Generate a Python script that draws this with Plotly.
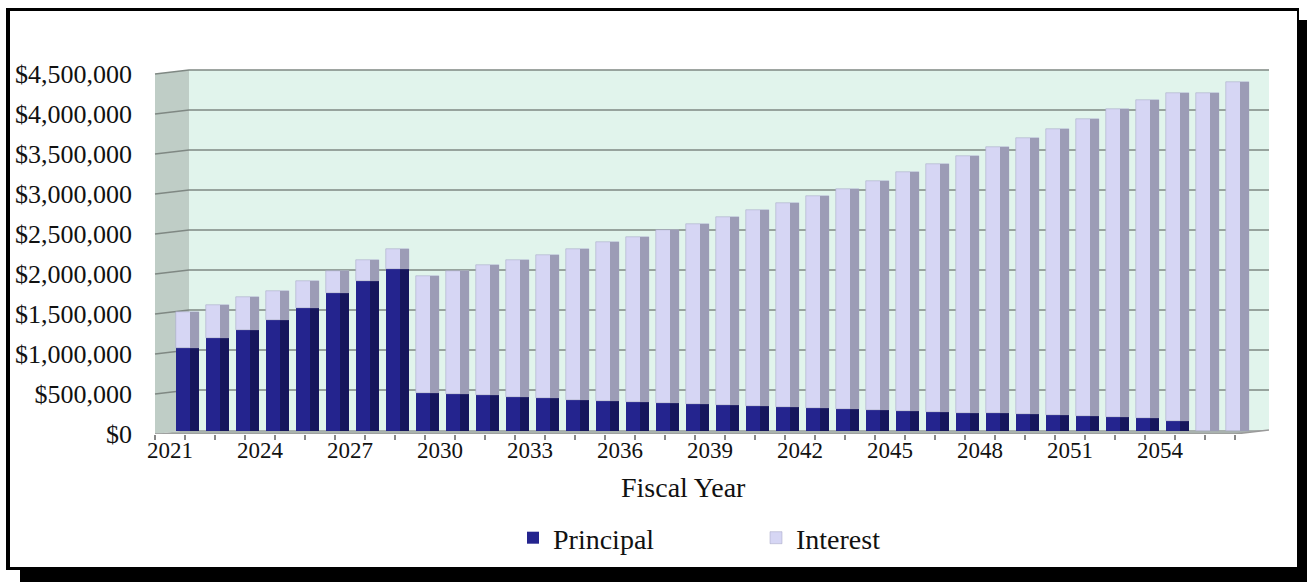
import plotly.graph_objects as go

# ---------------- data ----------------
years = list(range(2021, 2057))
principal = [1040000, 1160000, 1260000, 1390000, 1540000, 1720000, 1880000, 2030000,
             480000, 460000, 445000, 425000, 410000, 390000, 375000, 360000, 345000,
             333000, 320000, 310000, 296000, 283000, 270000, 260000, 254000, 240000,
             230000, 220000, 210000, 200000, 185000, 175000, 167000, 125000, 0, 0]
interest = [450000, 420000, 415000, 360000, 335000, 280000, 260000, 240000,
            1460000, 1540000, 1630000, 1715000, 1790000, 1890000, 1985000, 2070000,
            2165000, 2257000, 2350000, 2450000, 2554000, 2657000, 2760000, 2870000,
            2986000, 3100000, 3210000, 3330000, 3450000, 3580000, 3715000, 3845000,
            3973000, 4105000, 4220000, 4360000]
y_ticks = [0, 500000, 1000000, 1500000, 2000000, 2500000, 3000000, 3500000, 4000000, 4500000]
y_tick_text = ["$0", "$500,000", "$1,000,000", "$1,500,000", "$2,000,000", "$2,500,000",
               "$3,000,000", "$3,500,000", "$4,000,000", "$4,500,000"]
x_label_years = [2021, 2024, 2027, 2030, 2033, 2036, 2039, 2042, 2045, 2048, 2051, 2054]
x_title = "Fiscal Year"

# ---------------- geometry ----------------
W, H = 1307, 582
L, R, T, B = 145, 1280, 60, 434          # plot area in pixels
PX_PER_YEAR = 30.0
X0_PX = 170                               # front-plane centre of first category
PER_PX = 12500.0                          # dollars per pixel
x_rng = [years[0] + (L - X0_PX) / PX_PER_YEAR, years[0] + (R - X0_PX) / PX_PER_YEAR]
y_rng = [0, (B - T) * PER_PX]
mid_dx = 17 / PX_PER_YEAR                 # bars sit half-way into the depth
mid_dy = 3 * PER_PX
dx = 34 / PX_PER_YEAR                     # back wall offset
dy = 4 * PER_PX

def px(xp):
    return (xp - L) / (R - L)

def py(yp):
    return (B - yp) / (B - T)

SERIF = "Liberation Serif, Times New Roman, serif"
BAR_W = 23 / PX_PER_YEAR
SHADE_W = 9 / PX_PER_YEAR

fig = go.Figure()
base_int = [p for p in principal]

fig.add_trace(go.Bar(x=years, y=principal, base=[0] * len(years), name="Principal",
                     marker=dict(color="#24248e", line=dict(width=0)), width=BAR_W,
                     xaxis="x2", yaxis="y2", showlegend=True, legendrank=1))
fig.add_trace(go.Bar(x=years, y=principal, base=[0] * len(years), name="Principal",
                     marker=dict(color="#16165c", line=dict(width=0)), width=SHADE_W,
                     offset=BAR_W / 2 - SHADE_W, xaxis="x2", yaxis="y2", showlegend=False,
                     hoverinfo="skip"))
fig.add_trace(go.Bar(x=years, y=interest, base=base_int, name="Interest",
                     marker=dict(color="#d6d6f4", line=dict(width=0.5, color="#a0a0c0")),
                     width=BAR_W, xaxis="x2", yaxis="y2", showlegend=True, legendrank=2))
fig.add_trace(go.Bar(x=years, y=interest, base=base_int, name="Interest",
                     marker=dict(color="#9c9cb6", line=dict(width=0)), width=SHADE_W,
                     offset=BAR_W / 2 - SHADE_W, xaxis="x2", yaxis="y2", showlegend=False,
                     hoverinfo="skip"))

shapes = []
# frame with drop shadow
shapes.append(dict(type="rect", xref="paper", yref="paper", x0=px(6), x1=px(1299), y0=py(8), y1=py(570),
                   fillcolor="black", line=dict(width=0), layer="below"))
shapes.append(dict(type="rect", xref="paper", yref="paper", x0=px(1299), x1=px(1307), y0=py(20), y1=py(582),
                   fillcolor="black", line=dict(width=0), layer="below"))
shapes.append(dict(type="rect", xref="paper", yref="paper", x0=px(20), x1=px(1307), y0=py(570), y1=py(582),
                   fillcolor="black", line=dict(width=0), layer="below"))
shapes.append(dict(type="rect", xref="paper", yref="paper", x0=px(10), x1=px(1297), y0=py(11), y1=py(567),
                   fillcolor="white", line=dict(width=0), layer="below"))

xl = years[0] - 0.5
xr = years[-1] + 0.5
ytop = y_ticks[-1]
# back wall
shapes.append(dict(type="rect", xref="x", yref="y", x0=xl + dx, x1=xr + dx, y0=dy, y1=ytop + dy,
                   fillcolor="#e1f4ec", line=dict(width=0), layer="below"))
# left wall
shapes.append(dict(type="path", xref="x", yref="y",
                   path=f"M {xl},0 L {xl + dx},{dy} L {xl + dx},{ytop + dy} L {xl},{ytop} Z",
                   fillcolor="#bfcdc6", line=dict(width=0), layer="below"))
# floor
shapes.append(dict(type="path", xref="x", yref="y",
                   path=f"M {xl},0 L {xr},0 L {xr + dx},{dy} L {xl + dx},{dy} Z",
                   fillcolor="#a9b2ae", line=dict(width=0), layer="below"))
# gridlines on left and back walls
for v in y_ticks[1:]:
    shapes.append(dict(type="path", xref="x", yref="y",
                       path=f"M {xl},{v} L {xl + dx},{v + dy} L {xr + dx},{v + dy}",
                       line=dict(color="#7f8883", width=1.6), layer="below"))
# axis line (front) and right floor edge
shapes.append(dict(type="path", xref="x", yref="y",
                   path=f"M {xl},0 L {xr},0 L {xr + dx},{dy}",
                   line=dict(color="#9a9a9a", width=1.5), layer="below"))

fig.update_layout(
    width=W, height=H,
    margin=dict(l=L, r=W - R, t=T, b=H - B, pad=0),
    paper_bgcolor="white", plot_bgcolor="rgba(0,0,0,0)",
    barmode="overlay", bargap=0,
    shapes=shapes,
    font=dict(family=SERIF, color="#111111"),
    xaxis=dict(range=x_rng, showgrid=False, zeroline=False, showline=False,
               tickmode="array", tickvals=x_label_years, ticktext=[str(y) for y in x_label_years],
               ticks="", tickfont=dict(size=23, family=SERIF, color="#111111"),
               minor=dict(tickvals=[y - 0.5 for y in years] + [years[-1] + 0.5],
                          ticks="outside", ticklen=5, tickcolor="#888888", tickwidth=1.5,
                          showgrid=False)),
    yaxis=dict(range=y_rng, showgrid=False, zeroline=False, showline=False,
               tickmode="array", tickvals=y_ticks, ticktext=y_tick_text, ticks="",
               tickfont=dict(size=26, family=SERIF, color="#111111"), ticklabelstandoff=12),
    xaxis2=dict(range=[x_rng[0] - mid_dx, x_rng[1] - mid_dx], overlaying="x", visible=False),
    yaxis2=dict(range=[y_rng[0] - mid_dy, y_rng[1] - mid_dy], overlaying="y", visible=False),
    legend=dict(orientation="h", x=px(513), xanchor="left", y=py(538), yanchor="middle",
                font=dict(size=28, family=SERIF, color="#111111"), entrywidth=198,
                bgcolor="rgba(0,0,0,0)", traceorder="normal"),
    showlegend=True,
    annotations=[dict(text=x_title, xref="paper", yref="paper", x=px(683), y=py(488),
                      xanchor="center", yanchor="middle", showarrow=False,
                      font=dict(size=28, family=SERIF, color="#111111"))],
)

fig.write_html("out.html")
